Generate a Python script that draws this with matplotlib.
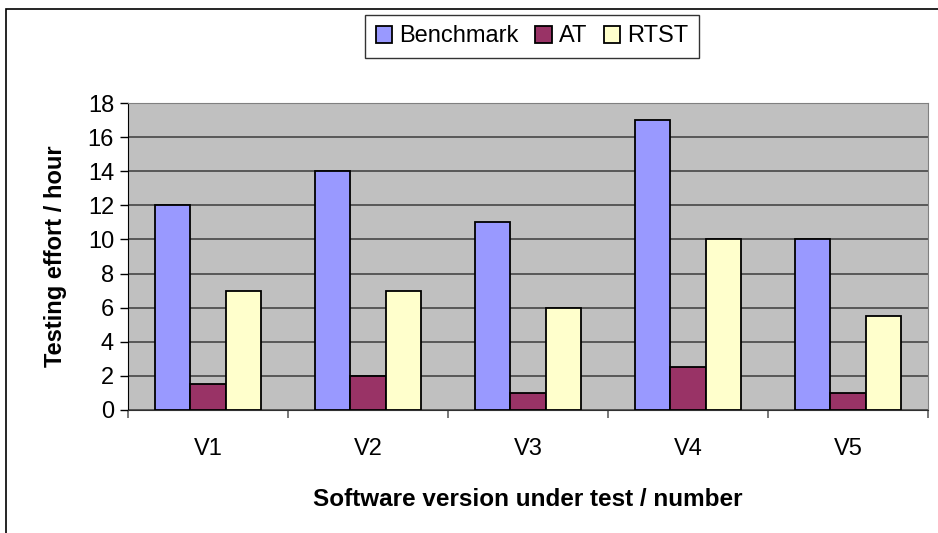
import numpy as np
import matplotlib
matplotlib.use("Agg")
import matplotlib.pyplot as plt
from matplotlib.patches import Rectangle

plt.rcParams['font.family'] = ['Liberation Sans', 'DejaVu Sans']

# chart data
versions = ['V1', 'V2', 'V3', 'V4', 'V5']
benchmark = [12, 14, 11, 17, 10]
at = [1.5, 2, 1, 2.5, 1]
rtst = [7, 7, 6, 10, 5.5]

series_names = ['Benchmark', 'AT', 'RTST']
series_colors = ['#9999FF', '#993366', '#FFFFCC']

fig = plt.figure(figsize=(9.38, 5.33), dpi=100)
ax = fig.add_axes([128/938, 1 - 410/533, 800/938, 307/533])

x = np.arange(len(versions))
w = 1 / 4.5   # Excel gap width 150%
for i, (vals, name, col) in enumerate(zip([benchmark, at, rtst], series_names, series_colors)):
    ax.bar(x + (i - 1) * w, vals, width=w, color=col, edgecolor='black',
           linewidth=1.3, label=name, zorder=3)

ax.set_facecolor('#C0C0C0')
ax.set_xlim(-0.5, len(versions) - 0.5)
ax.set_ylim(0, 18)
ax.set_yticks(np.arange(0, 19, 2))
ax.yaxis.grid(True, color='#505050', linewidth=1.3, zorder=1)

# category boundaries as major ticks, names as minor labels
ax.set_xticks(np.arange(-0.5, len(versions), 1))
ax.set_xticklabels([])
ax.set_xticks(x, minor=True)
ax.set_xticklabels(versions, minor=True)
ax.tick_params(axis='x', which='minor', length=0, pad=20, labelsize=17)
ax.tick_params(axis='x', which='major', length=6, width=1.2, direction='out',
               color='#606060')
ax.tick_params(axis='y', length=6, width=1, direction='out', labelsize=17, pad=4)

ax.spines['left'].set_color('black')
ax.spines['bottom'].set_color('#303030')
ax.spines['top'].set_color('#808080')
ax.spines['right'].set_color('#808080')

ax.set_xlabel('Software version under test / number', fontsize=17.5,
              fontweight='bold', labelpad=20)
ax.set_ylabel('Testing effort / hour', fontsize=17, fontweight='bold', labelpad=15)

leg = fig.legend(loc='center', bbox_to_anchor=(532/938, 1 - 36.5/533), ncol=3,
                 fontsize=17, frameon=True, fancybox=False, handlelength=0.7,
                 handleheight=0.7, handletextpad=0.3, columnspacing=0.7,
                 borderpad=0.45, borderaxespad=0)
leg.get_frame().set_edgecolor('black')
leg.get_frame().set_linewidth(1.0)

# outer chart frame (cut at the right and bottom edges)
fig.add_artist(Rectangle((6/938, -0.1), 1.1, 1 - 9/533 + 0.1,
                         transform=fig.transFigure, fill=False,
                         edgecolor='black', linewidth=1.2))

plt.savefig('out.png', dpi=100)
